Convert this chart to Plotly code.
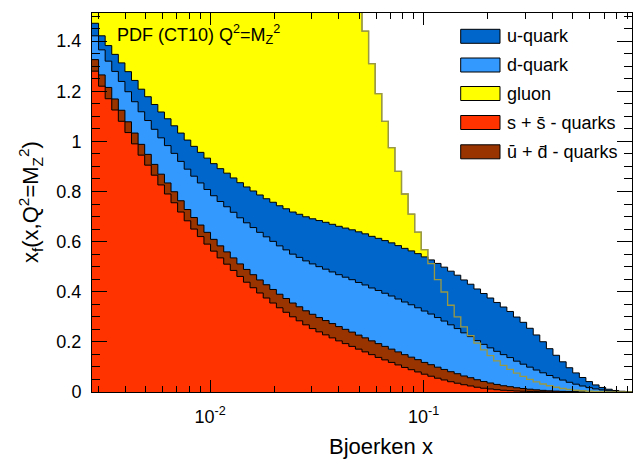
import numpy as np
import plotly.graph_objects as go

# Binning in Bjorken x (log-uniform bins)
x_min, x_max = 0.0028, 0.946
n_bins = 82
edges = np.logspace(np.log10(x_min), np.log10(x_max), n_bins + 1)

# x f(x, Q^2 = M_Z^2) per bin
s_sbar = [1.28, 1.22, 1.17, 1.125, 1.08, 1.035, 0.99, 0.945, 0.905, 0.865,
          0.826, 0.79, 0.755, 0.718, 0.683, 0.65, 0.62, 0.59, 0.562, 0.535,
          0.51, 0.485, 0.461, 0.438, 0.416, 0.395, 0.375, 0.355, 0.336, 0.318,
          0.30, 0.284, 0.268, 0.253, 0.24, 0.228, 0.216, 0.204, 0.193, 0.182,
          0.171, 0.16, 0.149, 0.138, 0.128, 0.118, 0.108, 0.098, 0.089, 0.08,
          0.071, 0.063, 0.055, 0.048, 0.041, 0.035, 0.029, 0.024, 0.019, 0.015,
          0.012, 0.0092, 0.007, 0.0053, 0.004, 0.003, 0.0022, 0.0016, 0.0011, 0.0008,
          0.0005, 0.0003, 0.0002, 0.0001, 0.0001, 0, 0, 0, 0, 0,
          0, 0]

ubar_dbar = [0.046, 0.045, 0.045, 0.044, 0.044, 0.043, 0.043, 0.043, 0.043, 0.043,
             0.043, 0.044, 0.044, 0.045, 0.045, 0.046, 0.046, 0.047, 0.047, 0.048,
             0.049, 0.05, 0.05, 0.051, 0.052, 0.052, 0.053, 0.054, 0.054, 0.055,
             0.055, 0.056, 0.056, 0.057, 0.057, 0.057, 0.057, 0.057, 0.057, 0.057,
             0.056, 0.056, 0.055, 0.055, 0.054, 0.053, 0.052, 0.051, 0.05, 0.049,
             0.047, 0.046, 0.044, 0.042, 0.04, 0.038, 0.035, 0.033, 0.03, 0.027,
             0.024, 0.021, 0.018, 0.016, 0.013, 0.011, 0.009, 0.007, 0.0055, 0.004,
             0.003, 0.0022, 0.0016, 0.0011, 0.0008, 0.0005, 0.0003, 0.0002, 0.0001, 0.0001,
             0, 0]

d_quark = [0.095, 0.1, 0.105, 0.11, 0.115, 0.12, 0.125, 0.13, 0.135, 0.14,
           0.145, 0.149, 0.153, 0.157, 0.161, 0.165, 0.168, 0.171, 0.174, 0.177,
           0.18, 0.182, 0.184, 0.186, 0.188, 0.19, 0.191, 0.192, 0.193, 0.194,
           0.195, 0.197, 0.199, 0.201, 0.203, 0.205, 0.206, 0.207, 0.208, 0.209,
           0.21, 0.211, 0.211, 0.212, 0.212, 0.212, 0.211, 0.21, 0.209, 0.207,
           0.205, 0.202, 0.198, 0.193, 0.187, 0.18, 0.172, 0.164, 0.156, 0.148,
           0.14, 0.132, 0.124, 0.116, 0.106, 0.097, 0.088, 0.079, 0.07, 0.061,
           0.053, 0.045, 0.037, 0.03, 0.023, 0.017, 0.012, 0.008, 0.005, 0.003,
           0.0015, 0.0005]

u_quark = [0.05, 0.056, 0.062, 0.068, 0.074, 0.08, 0.085, 0.09, 0.095, 0.099,
           0.103, 0.107, 0.11, 0.113, 0.116, 0.119, 0.122, 0.125, 0.128, 0.131,
           0.134, 0.137, 0.14, 0.143, 0.146, 0.149, 0.152, 0.156, 0.16, 0.164,
           0.168, 0.172, 0.176, 0.18, 0.184, 0.187, 0.19, 0.193, 0.196, 0.199,
           0.202, 0.204, 0.206, 0.208, 0.21, 0.212, 0.213, 0.214, 0.215, 0.216,
           0.216, 0.216, 0.216, 0.215, 0.214, 0.213, 0.211, 0.209, 0.206, 0.203,
           0.199, 0.195, 0.19, 0.184, 0.176, 0.167, 0.155, 0.14, 0.124, 0.107,
           0.09, 0.073, 0.058, 0.045, 0.034, 0.024, 0.016, 0.01, 0.006, 0.003,
           0.0015, 0.0005]

gluon = [7.9, 7.6, 7.3, 7.0, 6.7, 6.45, 6.2, 5.95, 5.7, 5.45,
         5.2, 5.0, 4.8, 4.6, 4.4, 4.2, 4.05, 3.9, 3.75, 3.6,
         3.45, 3.3, 3.15, 3.0, 2.88, 2.76, 2.64, 2.52, 2.41, 2.3,
         2.2, 2.1, 2.01, 1.95, 1.9, 1.85, 1.8, 1.75, 1.7, 1.65,
         1.58, 1.44, 1.31, 1.19, 1.08, 0.975, 0.88, 0.79, 0.71, 0.638,
         0.568, 0.512, 0.448, 0.399, 0.346, 0.30, 0.26, 0.225, 0.195, 0.168,
         0.145, 0.124, 0.106, 0.09, 0.075, 0.062, 0.05, 0.04, 0.032, 0.025,
         0.019, 0.014, 0.01, 0.007, 0.005, 0.003, 0.002, 0.0012, 0.0008, 0.0005,
         0.0003, 0.0002]

y_ticks = [0, 0.2, 0.4, 0.6, 0.8, 1.0, 1.2, 1.4]
y_tick_labels = ["0", "0.2", "0.4", "0.6", "0.8", "1", "1.2", "1.4"]
x_ticks = [0.01, 0.1]
x_tick_labels = ["10<sup>-2</sup>", "10<sup>-1</sup>"]

colors = {
    "u": "#0066cc",
    "d": "#3399ff",
    "g": "#ffff00",
    "s": "#ff3300",
    "ud": "#993300",
}
gluon_line = "#999944"

# stacked quark contributions (gluon is drawn on its own, behind the stack)
stack_s = np.array(s_sbar)
stack_ud = stack_s + np.array(ubar_dbar)
stack_d = stack_ud + np.array(d_quark)
stack_u = stack_d + np.array(u_quark)


def step_xy(vals):
    v = list(vals)
    return list(edges), v + [v[-1]]


fig = go.Figure()


def add_hist(vals, fill, line_color, line_width=1.0, filled=True):
    xs, ys = step_xy(vals)
    fig.add_trace(go.Scatter(
        x=xs, y=ys, mode="lines", line=dict(shape="hv", color=line_color, width=line_width),
        fill="tozeroy" if filled else None, fillcolor=fill if filled else None,
        hoverinfo="skip", showlegend=False,
    ))


add_hist(gluon, colors["g"], gluon_line, 1.3)
add_hist(stack_u, colors["u"], "black")
add_hist(stack_d, colors["d"], "black")
add_hist(stack_ud, colors["ud"], "black")
add_hist(stack_s, colors["s"], "black")
add_hist(gluon, None, gluon_line, 1.3, filled=False)

x_minor = [m * 10.0 ** e for e in (-3, -2, -1) for m in range(2, 10)]
x_minor = [v for v in x_minor if x_min < v < x_max]
y_minor = [round(0.05 * i, 2) for i in range(31)]
y_minor = [v for v in y_minor if round(v / 0.2, 6) % 1 != 0]

font = "Liberation Sans, Arial, Helvetica, sans-serif"

fig.update_xaxes(
    type="log", range=[np.log10(x_min), np.log10(x_max)],
    tickvals=x_ticks, ticktext=x_tick_labels,
    ticks="inside", ticklen=12, tickwidth=1, tickcolor="black",
    minor=dict(tickvals=x_minor, ticks="inside", ticklen=6, tickwidth=1, tickcolor="black"),
    showline=True, linecolor="black", linewidth=1, mirror="ticks",
    showgrid=False, zeroline=False,
    tickfont=dict(family=font, size=18, color="black"), ticklabelstandoff=8,
)
fig.update_yaxes(
    range=[0, 1.512],
    tickvals=y_ticks, ticktext=y_tick_labels,
    ticks="inside", ticklen=15, tickwidth=1, tickcolor="black",
    minor=dict(tickvals=y_minor, ticks="inside", ticklen=8, tickwidth=1, tickcolor="black"),
    showline=True, linecolor="black", linewidth=1, mirror="ticks",
    showgrid=False, zeroline=False,
    tickfont=dict(family=font, size=18, color="black"), ticklabelstandoff=6,
)

L, T, W, H = 92, 13, 540, 379


def px_x(p):
    return (p - L) / W


def px_y(p):
    return (T + H - p) / H


annotations = [
    dict(text="Bjoerken x", x=px_x(381), y=px_y(446), xref="paper", yref="paper",
         xanchor="center", yanchor="middle", showarrow=False,
         font=dict(family=font, size=22, color="black")),
    dict(text="x<sub>f</sub>(x,Q<sup>2</sup>=M<sub>Z</sub><sup>2</sup>)", x=px_x(30), y=px_y(202),
         xref="paper", yref="paper", xanchor="center", yanchor="middle", textangle=-90,
         showarrow=False, font=dict(family=font, size=22, color="black")),
    dict(text="PDF (CT10) Q<sup>2</sup>=M<sub>Z</sub><sup>2</sup>", x=px_x(115), y=px_y(34),
         xref="paper", yref="paper", xanchor="left", yanchor="middle",
         showarrow=False, font=dict(family=font, size=18, color="black")),
]

legend_items = [
    ("u-quark", colors["u"]),
    ("d-quark", colors["d"]),
    ("gluon", colors["g"]),
    ("s + s\u0304 - quarks", colors["s"]),
    ("u\u0304 + d\u0304 - quarks", colors["ud"]),
]
row_y = [36.3, 65.0, 93.5, 122.5, 151.8]
shapes = []
for (label, col), yc in zip(legend_items, row_y):
    shapes.append(dict(type="rect", xref="paper", yref="paper",
                       x0=px_x(460.7), x1=px_x(500), y0=px_y(yc + 7), y1=px_y(yc - 7),
                       fillcolor=col, line=dict(color="black", width=1)))
    annotations.append(dict(text=label, x=px_x(505), y=px_y(yc), xref="paper", yref="paper",
                            xanchor="left", yanchor="middle", showarrow=False,
                            font=dict(family=font, size=18, color="black")))

fig.update_layout(
    width=636, height=459, autosize=False,
    margin=dict(l=L, r=636 - L - W, t=T, b=459 - T - H, pad=0),
    paper_bgcolor="white", plot_bgcolor="white",
    annotations=annotations, shapes=shapes, showlegend=False,
)

fig.write_html("out.html")
